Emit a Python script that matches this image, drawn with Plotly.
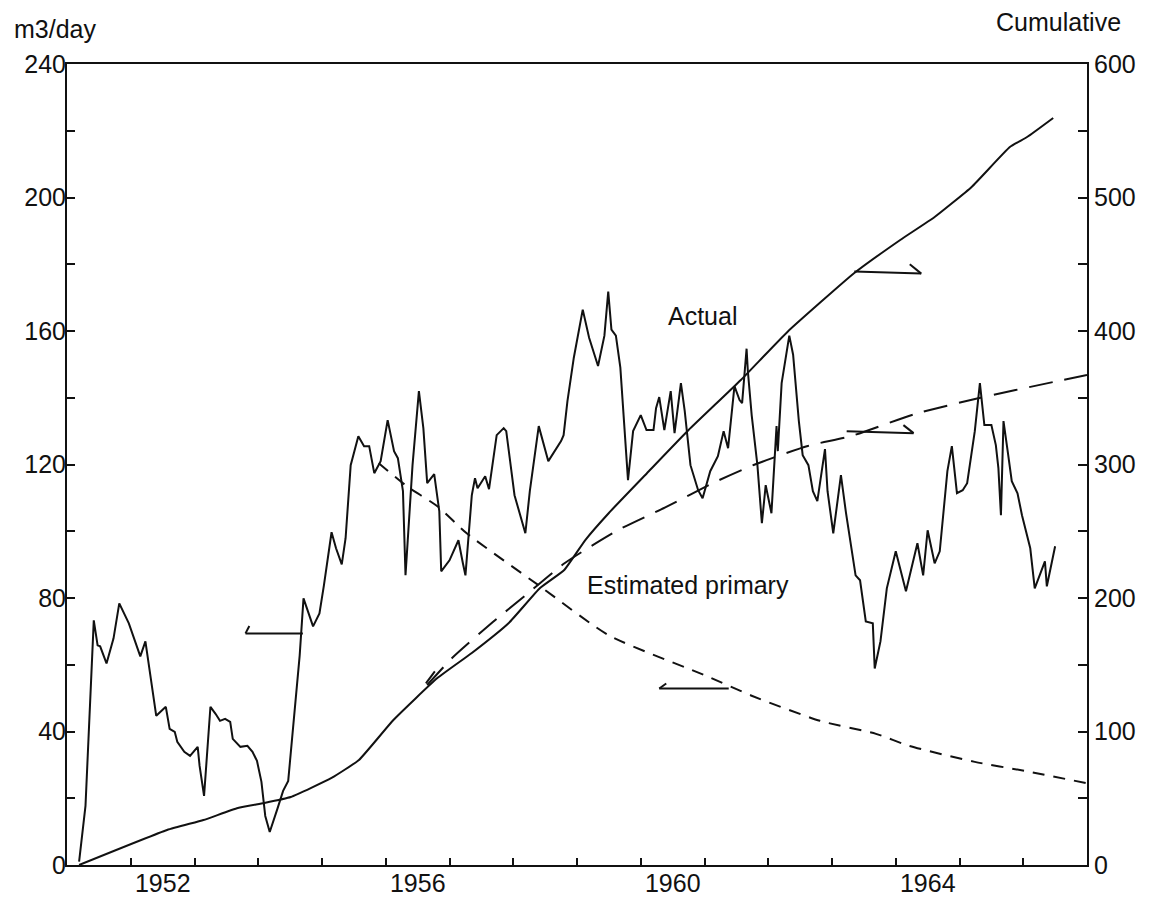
import plotly.graph_objects as go

# Actual production rate, m3/day (left axis)
rate_year = [
    1951.19, 1951.29, 1951.42, 1951.48, 1951.52, 1951.62, 1951.73, 1951.82, 1951.97, 1952.15,
    1952.23, 1952.32, 1952.40, 1952.55, 1952.61, 1952.69, 1952.73, 1952.84, 1952.93, 1953.05,
    1953.08, 1953.15, 1953.25, 1953.33, 1953.40, 1953.48, 1953.56, 1953.60, 1953.72, 1953.83,
    1953.91, 1953.98, 1954.05, 1954.11, 1954.18, 1954.30, 1954.39, 1954.47, 1954.54, 1954.65,
    1954.71, 1954.86, 1954.96, 1955.03, 1955.15, 1955.22, 1955.31, 1955.37, 1955.45, 1955.57,
    1955.66, 1955.74, 1955.82, 1955.92, 1956.03, 1956.13, 1956.19, 1956.27, 1956.31, 1956.42,
    1956.52, 1956.59, 1956.65, 1956.76, 1956.84, 1956.87, 1957.00, 1957.14, 1957.21, 1957.25,
    1957.35, 1957.40, 1957.44, 1957.56, 1957.62, 1957.74, 1957.85, 1957.89, 1958.02, 1958.19,
    1958.26, 1958.40, 1958.55, 1958.75, 1958.79, 1958.85, 1958.95, 1959.09, 1959.19, 1959.33,
    1959.43, 1959.49, 1959.54, 1959.61, 1959.68, 1959.74, 1959.80, 1959.88, 1960.00, 1960.09,
    1960.20, 1960.24, 1960.29, 1960.37, 1960.47, 1960.53, 1960.63, 1960.69, 1960.78, 1960.90,
    1960.97, 1961.09, 1961.21, 1961.30, 1961.37, 1961.47, 1961.55, 1961.59, 1961.66, 1961.68,
    1961.74, 1961.83, 1961.90, 1961.96, 1962.05, 1962.13, 1962.15, 1962.21, 1962.33, 1962.39,
    1962.48, 1962.54, 1962.63, 1962.70, 1962.77, 1962.89, 1962.93, 1963.02, 1963.14, 1963.22,
    1963.30, 1963.37, 1963.44, 1963.53, 1963.64, 1963.67, 1963.76, 1963.86, 1964.00, 1964.16,
    1964.34, 1964.43, 1964.50, 1964.61, 1964.69, 1964.81, 1964.88, 1964.96, 1965.05, 1965.12,
    1965.24, 1965.32, 1965.39, 1965.50, 1965.57, 1965.61, 1965.65, 1965.69, 1965.76, 1965.82,
    1965.91, 1965.98, 1966.11, 1966.18, 1966.34, 1966.37, 1966.50,
]
rate_value = [
    1.0, 17.7, 73.3, 65.8, 65.5, 60.4, 67.9, 78.4, 72.4, 62.5,
    67.0, 55.0, 44.7, 47.4, 40.8, 39.9, 36.9, 33.9, 32.7, 35.4,
    29.7, 20.7, 47.4, 45.3, 43.2, 43.8, 42.9, 37.8, 35.4, 35.7,
    33.9, 31.2, 24.9, 14.7, 9.9, 16.8, 22.2, 25.2, 39.9, 62.8,
    79.9, 71.5, 75.4, 83.8, 99.7, 94.9, 90.1, 97.9, 119.8, 128.5,
    125.5, 125.5, 117.4, 121.0, 133.3, 124.0, 121.9, 112.0, 86.8, 119.8,
    142.0, 130.9, 114.4, 117.1, 106.0, 88.0, 91.3, 97.3, 90.4, 86.8,
    110.8, 115.9, 112.9, 116.5, 112.6, 128.8, 130.9, 130.0, 110.8, 99.4,
    112.0, 131.5, 121.0, 127.0, 128.8, 139.0, 152.0, 166.4, 158.0, 149.5,
    158.6, 171.8, 160.4, 158.6, 149.0, 131.8, 115.3, 130.0, 134.8, 130.3,
    130.3, 136.9, 140.2, 130.3, 142.0, 129.4, 144.4, 136.0, 119.8, 112.3,
    109.9, 118.0, 122.5, 130.0, 124.9, 143.5, 139.3, 138.4, 154.7, 148.0,
    134.8, 119.8, 102.4, 113.8, 105.4, 131.5, 124.0, 144.4, 158.6, 152.9,
    133.0, 122.8, 119.8, 112.0, 109.0, 124.6, 112.0, 99.4, 116.8, 105.4,
    95.8, 86.8, 85.3, 73.0, 72.4, 58.9, 67.0, 82.9, 94.0, 82.0,
    96.4, 86.8, 100.3, 90.4, 94.0, 118.0, 125.5, 111.4, 112.3, 114.4,
    130.0, 144.4, 131.8, 131.8, 125.8, 118.9, 104.8, 133.0, 123.4, 115.0,
    111.4, 104.8, 94.9, 82.9, 91.0, 83.5, 95.5,
]

# Actual cumulative production (right axis)
cum_year = [
    1951.19, 1952.57, 1953.14, 1953.68, 1954.09, 1954.51, 1955.15, 1955.58, 1956.12, 1956.81,
    1957.35, 1957.93, 1958.42, 1958.80, 1959.13, 1959.50, 1960.10, 1960.75, 1961.57, 1962.30,
    1963.35, 1964.07, 1964.61, 1965.19, 1965.79, 1966.06, 1966.47,
]
cum_value = [
    0.0, 26.2, 33.7, 42.7, 46.4, 50.9, 65.2, 78.7, 108.6, 140.0,
    158.8, 181.3, 207.5, 221.0, 243.4, 263.7, 293.6, 325.8, 363.3, 399.3,
    443.4, 468.2, 485.4, 507.9, 537.8, 545.3, 559.6,
]

# Estimated primary rate (left axis)
prim_year = [
    1955.89, 1956.33, 1956.81, 1957.27, 1958.42, 1959.50, 1961.05, 1961.73, 1962.81, 1963.69,
    1964.21, 1965.24, 1966.02, 1967.00,
]
prim_value = [
    120.4, 113.5, 107.5, 99.4, 83.5, 68.8, 56.5, 50.8, 43.2, 39.3,
    35.7, 30.9, 28.2, 24.5,
]

# Estimated primary cumulative (right axis)
prim_cum_year = [
    1956.65, 1957.04, 1957.68, 1958.16, 1958.81, 1959.65, 1960.40, 1961.13, 1961.77, 1962.62,
    1963.30, 1964.30, 1965.31, 1966.47, 1967.00,
]
prim_cum_value = [
    134.8, 155.0, 182.0, 200.7, 226.2, 251.0, 268.2, 286.1, 299.6, 313.9,
    321.3, 337.8, 349.8, 361.8, 367.0,
]

year_ticks = list(range(1951, 1968))
year_labels = ["1952", "1956", "1960", "1964"]
left_ticks = list(range(0, 241, 20))
right_ticks = list(range(0, 601, 50))

FONT = "Liberation Sans, Arial, Helvetica, sans-serif"
INK = "#111111"

fig = go.Figure()

fig.add_trace(go.Scatter(
    x=rate_year, y=rate_value, mode="lines", name="Actual",
    line=dict(color=INK, width=2),
))
fig.add_trace(go.Scatter(
    x=cum_year, y=cum_value, mode="lines", name="Actual cumulative", yaxis="y2",
    line=dict(color=INK, width=2, shape="spline", smoothing=0.4),
))
fig.add_trace(go.Scatter(
    x=prim_year, y=prim_value, mode="lines", name="Estimated primary",
    line=dict(color=INK, width=2, dash="12px,9px", shape="spline", smoothing=0.6),
))
fig.add_trace(go.Scatter(
    x=prim_cum_year, y=prim_cum_value, mode="lines", name="Estimated primary cumulative",
    yaxis="y2",
    line=dict(color=INK, width=2, dash="24px,12px", shape="spline", smoothing=0.6),
))

# hand-drawn pointers telling which axis each curve belongs to
pointers = [
    # (x0, y0, x1, y1, barb_x, barb_y) in year / left-axis units
    (1954.70, 69.4, 1953.80, 69.4, 1953.86, 71.6),
    (1963.35, 177.8, 1964.40, 177.2, 1964.22, 180.0),
    (1963.23, 130.0, 1964.28, 129.4, 1964.12, 131.8),
    (1961.38, 52.9, 1960.29, 52.9, 1960.40, 54.4),
]
for x0, y0, x1, y1, bx, by in pointers:
    fig.add_shape(type="line", xref="x", yref="y", x0=x0, y0=y0, x1=x1, y1=y1,
                  line=dict(color=INK, width=2))
    fig.add_shape(type="line", xref="x", yref="y", x0=x1, y0=y1, x1=bx, y1=by,
                  line=dict(color=INK, width=2))
fig.add_shape(type="line", xref="x", yref="y", x0=1956.63, y0=54.4, x1=1956.77, y1=58.0,
              line=dict(color=INK, width=2))

labels = [
    ("Actual", 0.6235, 0.685, "center"),
    ("Estimated primary", 0.609, 0.35, "center"),
    ("m3/day", -0.054, 1.044, "left"),
    ("Cumulative", 1.035, 1.052, "right"),
]
for text, x, y, anchor in labels:
    fig.add_annotation(text=text, x=x, y=y, xref="paper", yref="paper",
                       xanchor=anchor, yanchor="middle", showarrow=False,
                       font=dict(size=25, color=INK, family=FONT))

# the page body adds an 8px offset, so the figure is 8px smaller than the window
fig.update_layout(
    width=1146, height=894,
    margin=dict(l=59, r=67, t=56, b=37),
    paper_bgcolor="white", plot_bgcolor="white",
    showlegend=False,
    font=dict(family=FONT, size=25, color=INK),
    xaxis=dict(
        range=[1951, 1967], showgrid=False, zeroline=False,
        showline=True, linecolor=INK, linewidth=2, mirror=True,
        ticks="inside", ticklen=7, tickwidth=2, tickcolor=INK,
        tickvals=year_ticks,
        ticktext=[str(y) if str(y) in year_labels else "" for y in year_ticks],
        ticklabelshift=32, ticklabelstandoff=-5, automargin=False,
    ),
    yaxis=dict(
        range=[0, 240], showgrid=False, zeroline=False,
        showline=True, linecolor=INK, linewidth=2,
        ticks="inside", ticklen=8, tickwidth=2, tickcolor=INK,
        tickvals=left_ticks,
        ticktext=[str(v) if v % 40 == 0 else "" for v in left_ticks],
        ticklabelstandoff=-6, automargin=False,
    ),
    yaxis2=dict(
        range=[0, 600], overlaying="y", side="right", showgrid=False, zeroline=False,
        showline=True, linecolor=INK, linewidth=2,
        ticks="inside", ticklen=9, tickwidth=2, tickcolor=INK,
        tickvals=right_ticks,
        ticktext=[str(v) if v % 100 == 0 else "" for v in right_ticks],
        automargin=False,
    ),
)

fig.write_html("out.html")
